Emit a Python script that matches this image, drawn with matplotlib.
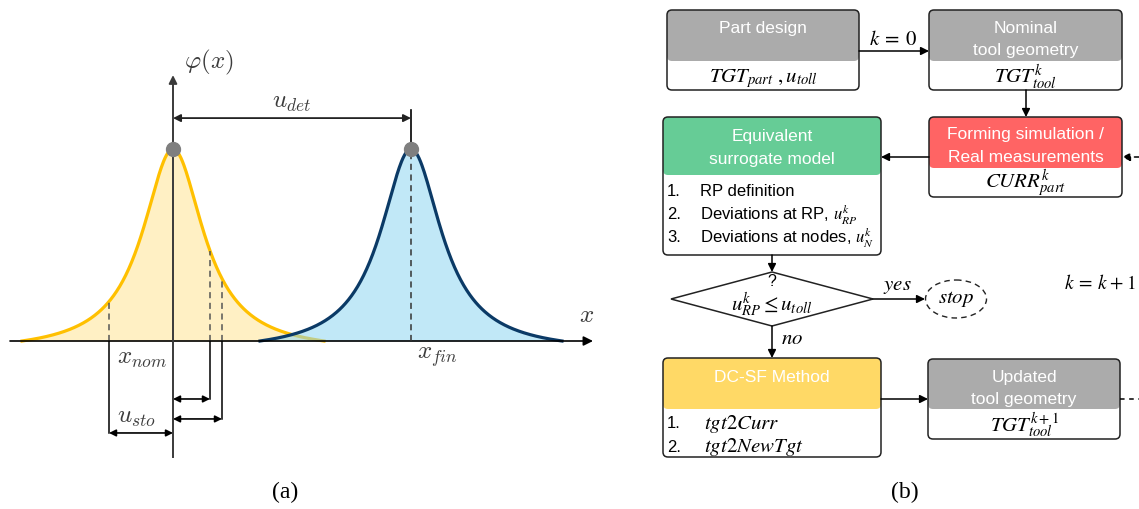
import matplotlib.pyplot as plt
import numpy as np
from matplotlib.patches import FancyBboxPatch, Polygon, Ellipse

plt.rcParams['font.family'] = ['Liberation Sans', 'DejaVu Sans']

# ---- (a) nominal vs final distribution, x measured from x_nom ----
x_nom = 0.0
u_det = 238.0
x_fin = x_nom + u_det
gamma = 37.0          # half width of both peaks
half_span = 151.0     # where the tails are cut off
sto_marks = [-64.0, 37.0, 49.0]   # u_sto limits around x_nom

# ---- (b) flowchart text ----
box_titles = ['Part design', 'Nominal\ntool geometry', 'Forming simulation /\nReal measurements',
              'Equivalent\nsurrogate model', 'DC-SF Method', 'Updated\ntool geometry']
box_vars = [r'$TGT_{part}\ ,u_{toll}$', r'$TGT_{tool}^{k}$', r'$CURR_{part}^{k}$',
            None, None, r'$TGT_{tool}^{k+1}$']
surrogate_steps = ['RP definition', r'Deviations at RP, $u_{RP}^{k}$', r'Deviations at nodes, $u_{N}^{k}$']
dcsf_steps = [r'$tgt2Curr$', r'$tgt2NewTgt$']
gray, red, green, yellow = '#ABABAB', '#FF6464', '#66CC96', '#FFD966'


def phi(x, c):
    # peaked density, shifted down so it meets zero at +-half_span
    t = 1.0 / (1.0 + ((x - c) / gamma) ** 2)
    t0 = 1.0 / (1.0 + (half_span / gamma) ** 2)
    return (t - t0) / (1.0 - t0)


fig = plt.figure(figsize=(11.39, 5.09), dpi=100)

ax = fig.add_axes([0, 0, 1, 1])
ax.set_xlim(-173, 1139 - 173)
ax.set_ylim(-168 / 192, 341 / 192)
ax.axis('off')

ink = '#3a3a3a'
cm = dict(math_fontfamily='cm', color='#3c3c3c', fontsize=18)

xs_n = np.linspace(x_nom - half_span, x_nom + half_span, 400)
xs_f = np.linspace(x_fin - half_span, x_fin + half_span, 400)
ax.fill_between(xs_n, phi(xs_n, x_nom), color='#FFF0C4', lw=0, zorder=1)
ax.plot(xs_n, phi(xs_n, x_nom), color='#FFC000', lw=2.3, zorder=2)
ax.fill_between(xs_f, phi(xs_f, x_fin), color='#8FD6F2', alpha=0.55, lw=0, zorder=3)
ax.plot(xs_f, phi(xs_f, x_fin), color='#0B3A66', lw=2.3, zorder=4)

# axes of the sketch
ax.annotate('', xy=(593 - 173, 0), xytext=(10 - 173, 0),
            arrowprops=dict(arrowstyle='-|>', color='black', lw=1.2, mutation_scale=14, shrinkA=0, shrinkB=0), zorder=5)
ax.plot([x_nom, x_nom], [-0.604, 1.0], color=ink, lw=1.4, zorder=5)
ax.annotate('', xy=(x_nom, 1.385), xytext=(x_nom, 1.0),
            arrowprops=dict(arrowstyle='-|>', color=ink, lw=1.4, mutation_scale=12, shrinkA=0, shrinkB=0), zorder=5)

# peak markers and u_det
ax.plot([x_fin, x_fin], [0, 1], ls=(0, (4, 3)), color='#333333', lw=1.1, zorder=5)
ax.plot([x_fin, x_fin], [1, 1.203], color='black', lw=1.2, zorder=5)
ax.plot([x_nom, x_fin], [1, 1], 'o', color='#7f7f7f', ms=10, zorder=6)
ax.annotate('', xy=(x_fin, 1.161), xytext=(x_nom, 1.161),
            arrowprops=dict(arrowstyle='<|-|>', color='#222222', lw=1.3, mutation_scale=11, shrinkA=0, shrinkB=0), zorder=5)

# u_sto limits
for xm, lev in zip(sto_marks, [-0.479, -0.302, -0.406]):
    ax.plot([xm, xm], [0, phi(xm, x_nom)], ls=(0, (4, 3)), color='#555555', lw=1.1, zorder=5)
    ax.plot([xm, xm], [0, lev], color='black', lw=1.1, zorder=5)
    ax.annotate('', xy=(xm, lev), xytext=(x_nom, lev),
                arrowprops=dict(arrowstyle='<|-|>', color='black', lw=1.2, mutation_scale=10, shrinkA=0, shrinkB=0), zorder=5)

ax.text(36, 1.45, r'$\varphi(x)$', ha='center', va='center', **cm)
ax.text(119, 1.245, r'$u_{det}$', ha='center', va='center', **cm)
ax.text(414, 0.135, r'$x$', ha='center', va='center', **cm)
ax.text(-31, -0.09, r'$x_{nom}$', ha='center', va='center', **cm)
ax.text(264, -0.085, r'$x_{fin}$', ha='center', va='center', **cm)
ax.text(-36, -0.395, r'$u_{sto}$', ha='center', va='center', **cm)

# ---- (b) flowchart, pixel-like coordinates ----
fb = fig.add_axes([0, 0, 1, 1])
fb.set_xlim(0, 1139)
fb.set_ylim(509, 0)
fb.axis('off')

st = dict(math_fontfamily='stix', fontsize=15, color='black')
arrow_kw = dict(arrowstyle='-|>', color='black', lw=1.1, mutation_scale=12, shrinkA=0, shrinkB=0)


def block(x0, y0, x1, y1, yh, color, title, title_y):
    rs = 'round,pad=0,rounding_size=5'
    fb.add_patch(FancyBboxPatch((x0, y0), x1 - x0, y1 - y0, boxstyle=rs, fc='white', ec='none'))
    fb.add_patch(FancyBboxPatch((x0, y0), x1 - x0, yh - y0, boxstyle=rs, fc=color, ec='none'))
    fb.add_patch(FancyBboxPatch((x0, y0), x1 - x0, y1 - y0, boxstyle=rs, fc='none', ec='#222222', lw=1.1))
    fb.text((x0 + x1) / 2, title_y, title, ha='center', va='center', color='white',
            fontsize=12.5, linespacing=1.62)


def arrow(p0, p1, **kw):
    props = dict(arrow_kw)
    props.update(kw)
    fb.annotate('', xy=p1, xytext=p0, arrowprops=props)


block(667, 10, 859, 90, 61, gray, box_titles[0], 28)
block(929, 10, 1122, 90, 61, gray, box_titles[1], 39.5)
block(929, 117, 1122, 197, 168, red, box_titles[2], 146)
block(663, 117, 881, 255, 175, green, box_titles[3], 148)
block(663, 358, 881, 457, 409, yellow, box_titles[4], 377)
block(928, 359, 1120, 439, 409, gray, box_titles[5], 388.5)

fb.text(763, 79, box_vars[0], ha='center', va='center', **st)
fb.text(1026, 77, box_vars[1], ha='center', va='center', **st)
fb.text(1026, 183, box_vars[2], ha='center', va='center', **st)
fb.text(1024, 425, box_vars[5], ha='center', va='center', **st)

for i, s in enumerate(surrogate_steps):
    fb.text(667, 191 + 23.5 * i, f'{i + 1}.', ha='left', va='center', fontsize=12)
    fb.text(700, 191 + 23.5 * i, s, ha='left', va='center', fontsize=12, math_fontfamily='stix')
for i, s in enumerate(dcsf_steps):
    fb.text(667, 424 + 23 * i, f'{i + 1}.', ha='left', va='center', fontsize=12)
    fb.text(704, 424 + 23 * i, s, ha='left', va='center', **st)

# connections
arrow((859, 51), (929, 51))
fb.text(893, 39, r'$k\:=\:0$', ha='center', va='center', **st)
arrow((1026, 90), (1026, 117))
arrow((929, 157), (881, 157))
arrow((1139, 157), (1122, 157), linestyle=(0, (3, 3)))
arrow((772, 255), (772, 272))

# decision
fb.add_patch(Polygon([(671, 299), (772, 272), (873, 299), (772, 326)], closed=True,
                     fc='white', ec='#222222', lw=1.1))
fb.text(772, 282, '?', ha='center', va='center', fontsize=11.5)
fb.text(772, 305, r'$u_{RP}^{k} \leq u_{toll}$', ha='center', va='center', **st)
arrow((873, 299), (925, 299))
fb.text(897, 287, r'$yes$', ha='center', va='center', **st)
fb.add_patch(Ellipse((956, 299), 61, 38, fc='white', ec='#222222', lw=1.0, ls=(0, (4, 3))))
fb.text(956, 299, r'$stop$', ha='center', va='center', **st)
fb.text(1136, 284, r'$k\:=\:k\:+\:1$', ha='right', va='center', math_fontfamily='stix', fontsize=14)
arrow((772, 326), (772, 358))
fb.text(792, 339, r'$no$', ha='center', va='center', **st)
arrow((881, 399), (928, 399))
fb.plot([1120, 1139], [399, 399], color='black', lw=1.1, ls=(0, (3, 3)))

# panel labels
fig.text(285 / 1139, 1 - 492 / 509, '(a)', ha='center', va='center', fontsize=17, family='Liberation Serif')
fig.text(905 / 1139, 1 - 492 / 509, '(b)', ha='center', va='center', fontsize=17, family='Liberation Serif')

plt.savefig('out.png', dpi=100)
